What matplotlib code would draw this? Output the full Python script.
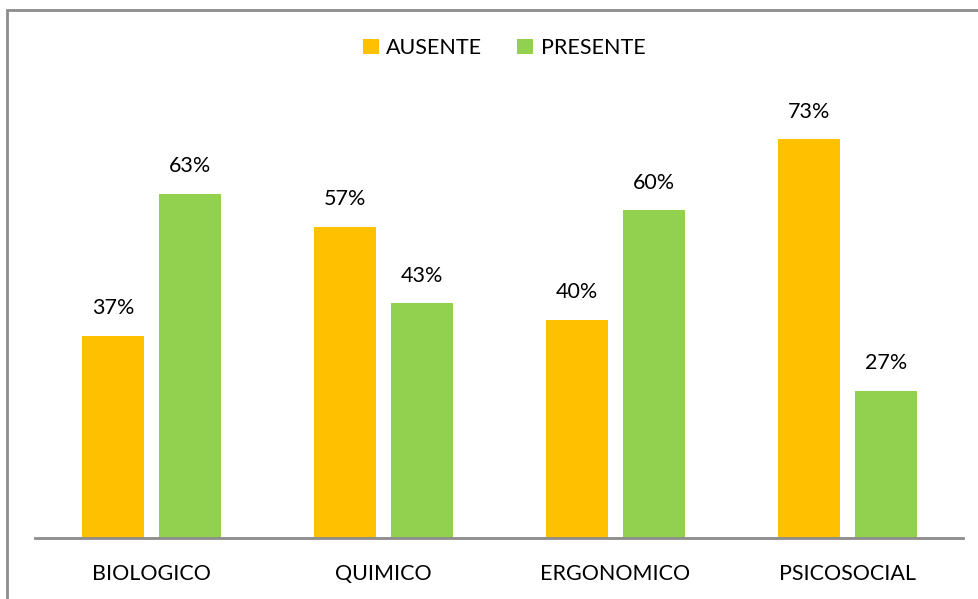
import numpy as np
import matplotlib.pyplot as plt
from matplotlib.patches import Rectangle

plt.rcParams['font.family'] = ['Lato', 'DejaVu Sans']

categories = ['BIOLOGICO', 'QUIMICO', 'ERGONOMICO', 'PSICOSOCIAL']
ausente = [0.37, 0.57, 0.40, 0.73]
presente = [0.63, 0.43, 0.60, 0.27]

W, H = 979, 599
fig = plt.figure(figsize=(W / 100, H / 100), dpi=100)

# chart border (runs off the right and bottom edges)
fig.patches.append(Rectangle((7 / W, -0.1), 1.2, 1 - 10 / H + 0.1,
                             transform=fig.transFigure, fill=False,
                             edgecolor='#8c8c8c', linewidth=2))

ax = fig.add_axes([35.5 / W, (H - 538) / H, 928 / W, 437 / H])
x = np.arange(len(categories))
w = 0.267
off = 0.166
b1 = ax.bar(x - off, ausente, w, color='#FFC000', label='AUSENTE')
b2 = ax.bar(x + off, presente, w, color='#92D050', label='PRESENTE')

for bars, vals in ((b1, ausente), (b2, presente)):
    for b, v in zip(bars, vals):
        ax.text(b.get_x() + b.get_width() / 2, v + 0.032, f'{v:.0%}',
                ha='center', va='bottom', fontsize=15.5)

ax.set_xlim(-0.5, len(categories) - 0.5)
ax.set_ylim(0, 0.8)
ax.set_xticks(x)
ax.set_xticklabels(categories, fontsize=15.5)
ax.tick_params(axis='x', length=0, pad=19)
ax.set_yticks([])
for s in ('top', 'right', 'left'):
    ax.spines[s].set_visible(False)
ax.spines['bottom'].set_color('#8c8c8c')
ax.spines['bottom'].set_linewidth(2)

fig.legend(loc='center', bbox_to_anchor=(504 / W, 1 - 48 / H), ncol=2,
           frameon=False, fontsize=15.5, handlelength=0.75, handleheight=0.75,
           handletextpad=0.35, columnspacing=1.6)

fig.savefig('out.png', dpi=100)
